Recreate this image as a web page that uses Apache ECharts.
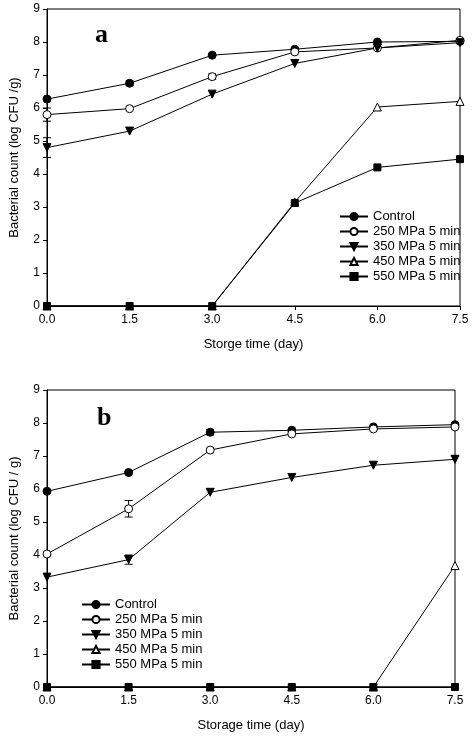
<!DOCTYPE html>
<html>
<head>
<meta charset="UTF-8">
<script src="https://cdn.jsdelivr.net/npm/echarts@6/dist/echarts.min.js"></script>
<style>html,body{margin:0;background:#fff}#c{width:474px;height:745px}</style>
</head>
<body>
<div id="c"></div>
<script>
  const days = [0, 1.5, 3, 4.5, 6, 7.5]
  const names = ['Control', '250 MPa 5 min', '350 MPa 5 min', '450 MPa 5 min', '550 MPa 5 min']
  const aCtrl = [6.27, 6.75, 7.6, 7.78, 8.0, 8.02]
  const a250 = [5.8, 5.98, 6.95, 7.7, 7.82, 8.05]
  const a350 = [4.8, 5.3, 6.42, 7.35, 7.82, 7.98]
  const a450 = [0, 0, 0, 3.15, 6.03, 6.2]
  const a550 = [0, 0, 0, 3.12, 4.2, 4.45]
  const bCtrl = [5.93, 6.5, 7.72, 7.78, 7.88, 7.95]
  const b250 = [4.03, 5.4, 7.18, 7.67, 7.82, 7.88]
  const b350 = [3.33, 3.86, 5.9, 6.35, 6.72, 6.9]
  const b450 = [0, 0, 0, 0, 0, 3.68]
  const b550 = [0, 0, 0, 0, 0, 0]
  // error bars: [day, low, high]
  const aErr = [[0, 5.6, 6.0], [0, 4.5, 5.1], [1.5, 6.68, 6.82], [3, 6.87, 7.03]]
  const bErr = [[1.5, 5.15, 5.65], [1.5, 3.72, 4.0], [3, 7.64, 7.8]]

  const styles = [
    { symbol: 'circle', fill: '#000' },
    { symbol: 'circle', fill: '#fff' },
    { symbol: 'triangle', fill: '#000', rot: 180 },
    { symbol: 'triangle', fill: '#fff' },
    { symbol: 'rect', fill: '#000' }
  ]

  function lines(sets, gi) {
    return sets.map((vals, i) => ({
      name: names[i], type: 'line', xAxisIndex: gi, yAxisIndex: gi,
      data: vals.map((v, k) => [days[k], v]),
      symbol: styles[i].symbol, symbolSize: styles[i].symbol === 'rect' ? 7 : 8,
      symbolRotate: styles[i].rot || 0,
      lineStyle: { color: '#000', width: 1 },
      itemStyle: { color: styles[i].fill, borderColor: '#000', borderWidth: 1 },
      z: 3, clip: false
    }))
  }

  function errs(data, gi) {
    return {
      type: 'custom', xAxisIndex: gi, yAxisIndex: gi, data: data, z: 2,
      renderItem: (p, api) => {
        const lo = api.coord([api.value(0), api.value(1)])
        const hi = api.coord([api.value(0), api.value(2)])
        const w = 4
        return { type: 'group', children: [
          { type: 'line', shape: { x1: lo[0], y1: lo[1], x2: hi[0], y2: hi[1] }, style: { stroke: '#000', lineWidth: 1 } },
          { type: 'line', shape: { x1: lo[0] - w, y1: lo[1], x2: lo[0] + w, y2: lo[1] }, style: { stroke: '#000', lineWidth: 1 } },
          { type: 'line', shape: { x1: hi[0] - w, y1: hi[1], x2: hi[0] + w, y2: hi[1] }, style: { stroke: '#000', lineWidth: 1 } }
        ] }
      }
    }
  }

  const font = 'Liberation Sans, Arial, sans-serif'
  function xAx(gi, title) {
    return {
      type: 'value', gridIndex: gi, min: 0, max: 7.5, interval: 1.5,
      name: title, nameLocation: 'middle', nameGap: 32,
      nameTextStyle: { fontFamily: font, fontSize: 13, color: '#000' },
      axisLine: { lineStyle: { color: '#000' } },
      axisTick: { lineStyle: { color: '#000' }, length: 4 },
      axisLabel: { fontFamily: font, fontSize: 12, color: '#000', formatter: v => v.toFixed(1) },
      splitLine: { show: false }
    }
  }
  function yAx(gi, title) {
    return {
      type: 'value', gridIndex: gi, min: 0, max: 9, interval: 1,
      name: title, nameLocation: 'middle', nameGap: 26,
      nameTextStyle: { fontFamily: font, fontSize: 13, color: '#000' },
      axisLine: { lineStyle: { color: '#000' } },
      axisTick: { lineStyle: { color: '#000' }, length: 4 },
      axisLabel: { fontFamily: font, fontSize: 12, color: '#000', margin: 7 },
      splitLine: { show: false }
    }
  }

  const chart = echarts.init(document.getElementById('c'))
  chart.setOption({
    animation: false,
    grid: [
      { left: 46, top: 9, width: 414, height: 297, show: true, borderColor: '#000', borderWidth: 1 },
      { left: 44, top: 390, width: 411, height: 297, show: true, borderColor: '#000', borderWidth: 1 }
    ],
    xAxis: [xAx(0, 'Storge time (day)'), xAx(1, 'Storage time (day)')],
    yAxis: [yAx(0, 'Bacterial count (log CFU /g)'), yAx(1, 'Bacterial count (log CFU / g)')],
    legend: [
      { orient: 'vertical', left: 334, top: 205, itemGap: 2, itemWidth: 28, itemHeight: 9,
        data: names, textStyle: { fontFamily: font, fontSize: 13, color: '#000' } },
      { orient: 'vertical', left: 76, top: 593, itemGap: 2, itemWidth: 28, itemHeight: 9,
        data: names, textStyle: { fontFamily: font, fontSize: 13, color: '#000' } }
    ],
    graphic: [
      { type: 'text', left: 95, top: 22, style: { text: 'a', font: 'bold 26px Liberation Serif, serif', fill: '#000' } },
      { type: 'text', left: 97, top: 405, style: { text: 'b', font: 'bold 26px Liberation Serif, serif', fill: '#000' } }
    ],
    series: [
      ...lines([aCtrl, a250, a350, a450, a550], 0),
      ...lines([bCtrl, b250, b350, b450, b550], 1),
      errs(aErr, 0), errs(bErr, 1)
    ]
  })
</script>
</body>
</html>
